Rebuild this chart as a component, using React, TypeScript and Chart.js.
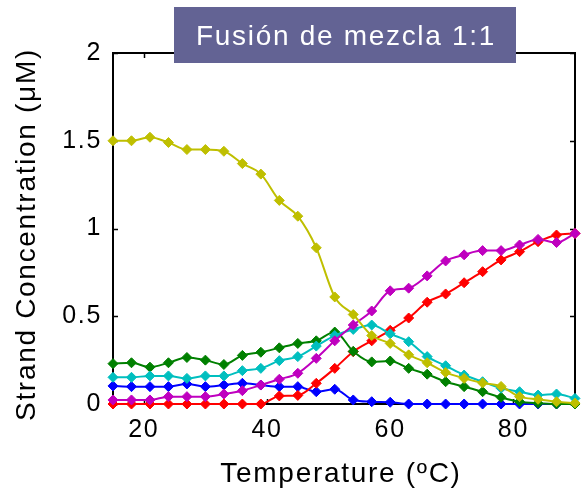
import { useEffect, useRef } from "react";
import { Chart, registerables } from "chart.js";

Chart.register(...registerables);

const temperatures = [15, 18, 21, 24, 27, 30, 33, 36, 39, 42, 45, 48, 51, 54, 57, 60, 63, 66, 69, 72, 75, 78, 81, 84, 87, 90];

const yellowSeries = [1.5, 1.5, 1.52, 1.49, 1.45, 1.45, 1.44, 1.37, 1.31, 1.16, 1.07, 0.89, 0.61, 0.51, 0.39, 0.345, 0.28, 0.235, 0.18, 0.146, 0.12, 0.1, 0.042, 0.027, 0.013, 0.005];
const greenSeries = [0.23, 0.235, 0.21, 0.235, 0.265, 0.25, 0.225, 0.277, 0.295, 0.32, 0.345, 0.36, 0.41, 0.3, 0.24, 0.245, 0.203, 0.17, 0.127, 0.099, 0.07, 0.038, 0.013, 0.004, 0.0, 0.0];
const cyanSeries = [0.152, 0.152, 0.16, 0.16, 0.146, 0.16, 0.16, 0.19, 0.203, 0.247, 0.27, 0.33, 0.39, 0.425, 0.45, 0.4, 0.355, 0.27, 0.218, 0.165, 0.127, 0.09, 0.07, 0.051, 0.057, 0.032];
const blueSeries = [0.103, 0.099, 0.099, 0.099, 0.114, 0.099, 0.108, 0.118, 0.108, 0.099, 0.099, 0.07, 0.084, 0.023, 0.013, 0.01, 0.0, 0.0, 0.0, 0.0, 0.0, 0.0, 0.0, 0.0, 0.0, 0.0];
const magentaSeries = [0.023, 0.023, 0.023, 0.042, 0.042, 0.042, 0.057, 0.076, 0.108, 0.141, 0.175, 0.26, 0.36, 0.45, 0.53, 0.645, 0.66, 0.73, 0.815, 0.85, 0.874, 0.874, 0.906, 0.938, 0.92, 0.972];
const redSeries = [0, 0, 0, 0, 0, 0, 0, 0, 0, 0.046, 0.049, 0.118, 0.203, 0.298, 0.36, 0.42, 0.49, 0.58, 0.627, 0.691, 0.754, 0.821, 0.868, 0.925, 0.963, 0.972];

const xTickValues = [20, 40, 60, 80];
const yTickValues = [0, 0.5, 1, 1.5, 2];

const titleText = "Fusión de mezcla 1:1";
const xTitle = "Temperature (ºC)";
const yTitle = "Strand Concentration (μM)";

const FONT = '"Liberation Sans", Arial, sans-serif';
const SPACING = "1.7px";

const seriesDefs = [
  { label: "yellow", data: yellowSeries, color: "#bfbf00" },
  { label: "magenta", data: magentaSeries, color: "#bf00bf" },
  { label: "cyan", data: cyanSeries, color: "#00bfbf" },
  { label: "green", data: greenSeries, color: "#008000" },
  { label: "red", data: redSeries, color: "#ff0000" },
  { label: "blue", data: blueSeries, color: "#0000ff" },
];

const decorPlugin = {
  id: "decor",
  beforeDraw(chart: any) {
    (chart.ctx as any).letterSpacing = SPACING;
  },
  beforeDatasetsDraw(chart: any) {
    const { ctx, chartArea, scales } = chart;
    const { left, right, top, bottom } = chartArea;
    ctx.save();
    ctx.strokeStyle = "#000";
    ctx.lineWidth = 2;
    ctx.strokeRect(left, top, right - left, bottom - top);
    ctx.lineWidth = 1.5;
    ctx.beginPath();
    for (const v of xTickValues) {
      const px = Math.round(scales.x.getPixelForValue(v)) + 0.5;
      ctx.moveTo(px, bottom);
      ctx.lineTo(px, bottom - 5);
      ctx.moveTo(px, top);
      ctx.lineTo(px, top + 5);
    }
    for (const v of yTickValues) {
      const py = Math.round(scales.y.getPixelForValue(v)) + 0.5;
      ctx.moveTo(left, py);
      ctx.lineTo(left + 5, py);
      ctx.moveTo(right, py);
      ctx.lineTo(right - 5, py);
    }
    ctx.stroke();
    ctx.restore();
  },
  afterDraw(chart: any) {
    const { ctx, chartArea } = chart;
    const { left, right, top, bottom } = chartArea;
    ctx.save();
    (ctx as any).letterSpacing = SPACING;
    ctx.fillStyle = "#000";
    ctx.font = `28px ${FONT}`;
    ctx.textAlign = "center";
    ctx.textBaseline = "alphabetic";
    ctx.fillText(xTitle, (left + right) / 2 - 3, 482);
    ctx.save();
    ctx.translate(35, (top + bottom) / 2 + 6);
    ctx.rotate(-Math.PI / 2);
    ctx.fillText(yTitle, 0, 0);
    ctx.restore();
    // title box
    ctx.fillStyle = "#636394";
    ctx.fillRect(174, 7, 342, 56);
    ctx.fillStyle = "#ffffff";
    ctx.font = `28px ${FONT}`;
    ctx.fillText(titleText, 346, 45);
    ctx.restore();
    (ctx as any).letterSpacing = "0px";
  },
};

export default function App() {
  const canvasRef = useRef<HTMLCanvasElement | null>(null);

  useEffect(() => {
    document.body.style.margin = "0";
    const canvas = canvasRef.current;
    if (!canvas) return;
    const chart = new Chart(canvas, {
      type: "line",
      data: {
        datasets: seriesDefs.map((s) => ({
          label: s.label,
          data: temperatures.map((t, i) => ({ x: t, y: s.data[i] })),
          borderColor: s.color,
          backgroundColor: s.color,
          pointBackgroundColor: s.color,
          pointBorderColor: s.color,
          pointStyle: "rectRot",
          pointRadius: 5,
          pointBorderWidth: 1,
          borderWidth: 2,
          cubicInterpolationMode: "monotone",
          fill: false,
          clip: false as any,
        })),
      },
      options: {
        responsive: false,
        animation: false,
        devicePixelRatio: 1,
        layout: { padding: { top: 53, right: 2, left: 0, bottom: 0 } },
        plugins: {
          legend: { display: false },
          tooltip: { enabled: false },
          title: { display: false },
        },
        scales: {
          x: {
            type: "linear",
            min: 15,
            max: 90,
            afterBuildTicks: (s: any) => {
              s.ticks = xTickValues.map((v) => ({ value: v }));
            },
            afterFit: (s: any) => {
              s.height = 90;
            },
            ticks: {
              color: "#000",
              font: { family: FONT, size: 25 },
              padding: 11,
              maxRotation: 0,
              autoSkip: false,
              callback: (v: any) => String(v),
            },
            grid: { display: false, drawTicks: false },
            border: { display: false },
          },
          y: {
            type: "linear",
            min: 0,
            max: 2,
            afterBuildTicks: (s: any) => {
              s.ticks = yTickValues.map((v) => ({ value: v }));
            },
            afterFit: (s: any) => {
              s.width = 113;
            },
            ticks: {
              color: "#000",
              font: { family: FONT, size: 25 },
              padding: 11,
              autoSkip: false,
              callback: (v: any) => String(v),
            },
            grid: { display: false, drawTicks: false },
            border: { display: false },
          },
        },
      },
      plugins: [decorPlugin],
    });
    return () => {
      chart.destroy();
    };
  }, []);

  return (
    <div style={{ width: 581, height: 494 }}>
      <canvas ref={canvasRef} width={581} height={494} style={{ display: "block", width: 581, height: 494 }} />
    </div>
  );
}
